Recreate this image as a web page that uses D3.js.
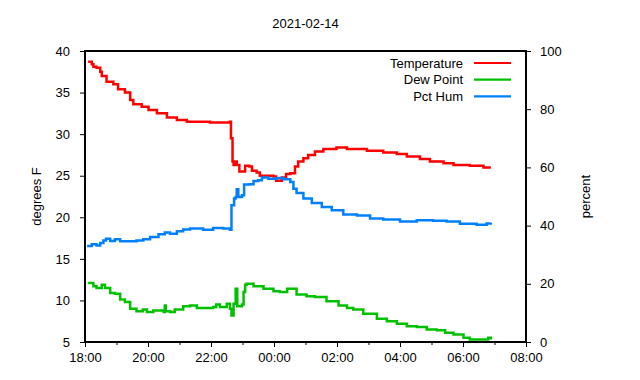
<!DOCTYPE html>
<html>
<head>
<meta charset="utf-8">
<script src="https://cdn.jsdelivr.net/npm/d3@7"></script>
<style>
  body { margin: 0; background: #fff; }
  svg text { font-family: "Liberation Sans", Arial, sans-serif; font-size: 13px; fill: #000; }
</style>
</head>
<body>
<svg id="chart"></svg>
<script>
// minutes after 18:00 on 2021-02-14, value
const temperature = [
  [6,38.7],[13,38.4],[16,38.1],[22,38.0],[29,37.5],[32,37.0],[41,36.3],[54,36.0],[63,35.4],
  [76,35.0],[86,34.1],[92,33.6],[108,33.3],[121,32.9],[137,32.5],[156,32.0],[175,31.7],
  [194,31.5],[238,31.4],[276,31.5],[278,29.5],[281,26.7],[283,26.3],[286,26.7],[289,26.3],
  [294,25.5],[299,25.5],[305,26.2],[313,26.1],[318,25.6],[327,25.4],[333,25.0],[359,24.9],
  [364,24.4],[371,24.4],[375,24.8],[383,25.2],[391,25.3],[400,26.1],[406,26.7],[416,27.1],
  [425,27.5],[438,27.9],[454,28.2],[479,28.4],[499,28.2],[537,28.0],[568,27.8],[594,27.6],
  [613,27.3],[638,27.0],[657,26.7],[683,26.5],[702,26.3],[733,26.2],[759,26.0],[773,26.0]
];
const dewPoint = [
  [6,12.1],[16,11.7],[22,11.5],[32,11.9],[38,11.5],[48,10.9],[57,10.8],[67,10.1],[76,9.8],
  [86,9.0],[98,8.7],[110,8.9],[118,8.6],[130,8.8],[143,8.8],[150,8.6],[152,9.4],[154,8.7],
  [162,8.6],[171,8.9],[187,9.3],[200,9.4],[213,9.1],[232,9.1],[244,9.2],[250,9.5],[257,9.2],
  [270,9.6],[276,9.0],[279,8.2],[283,9.6],[287,11.4],[290,9.3],[299,9.5],[302,11.0],
  [305,11.9],[308,12.0],[321,11.7],[340,11.4],[359,11.1],[371,11.0],[385,11.4],[403,10.7],
  [422,10.5],[438,10.4],[460,9.9],[483,9.4],[499,9.1],[511,8.9],[530,8.4],[556,7.8],
  [575,7.5],[594,7.2],[613,6.9],[632,6.8],[651,6.5],[670,6.4],[686,6.1],[702,5.9],[721,5.5],
  [733,5.3],[759,5.3],[768,5.5],[773,5.3]
];
const pctHum = [
  [4,33.0],[13,33.6],[22,33.2],[29,34.0],[35,34.9],[40,35.5],[48,34.7],[57,35.3],[67,34.6],
  [86,34.6],[98,34.9],[111,35.3],[124,36.1],[140,37.0],[152,37.6],[162,37.2],[175,38.1],
  [187,38.7],[200,39.0],[225,38.6],[244,39.2],[263,39.0],[276,38.6],[278,38.6],[279,47.0],
  [284,49.3],[287,49.8],[289,52.5],[292,49.8],[299,50.4],[303,54.1],[314,54.2],[321,55.3],
  [330,55.6],[337,56.5],[349,56.1],[365,56.4],[378,55.9],[391,55.0],[397,52.7],[403,51.2],
  [416,49.3],[432,47.8],[451,46.4],[470,45.3],[492,43.8],[518,43.5],[543,42.4],[568,42.1],
  [600,41.4],[632,41.8],[663,41.7],[689,41.4],[714,40.6],[746,40.3],[765,40.7],[773,41.0]
];
const seriesNames = ["Temperature", "Dew Point", "Pct Hum"];
const seriesColors = ["#ff0000", "#00c000", "#0080ff"];
const leftTicks = [5, 10, 15, 20, 25, 30, 35, 40];
const rightTicks = [0, 20, 40, 60, 80, 100];

const W = 640, H = 380;
const margin = { top: 51, right: 114, bottom: 38, left: 85 };
const innerW = W - margin.left - margin.right;
const innerH = H - margin.top - margin.bottom;

const base = new Date(2021, 1, 14, 18, 0);
const toDate = m => new Date(base.getTime() + m * 60000);

const svg = d3.select("#chart").attr("width", W).attr("height", H);
const g = svg.append("g").attr("transform", `translate(${margin.left},${margin.top})`);

const x = d3.scaleTime().domain([base, toDate(14 * 60)]).range([0, innerW]);
const yL = d3.scaleLinear().domain([5, 40]).range([innerH, 0]);
const yR = d3.scaleLinear().domain([0, 100]).range([innerH, 0]);

// axes
g.append("g").attr("transform", `translate(0,${innerH})`)
  .call(d3.axisBottom(x).ticks(d3.timeHour.every(2)).tickFormat(d3.timeFormat("%H:%M"))
    .tickSizeInner(5).tickSizeOuter(0).tickPadding(6));
g.append("g").attr("transform", `translate(0,${innerH})`)
  .call(d3.axisBottom(x).ticks(d3.timeHour.every(1)).tickFormat("").tickSizeInner(3).tickSizeOuter(0))
  .select(".domain").remove();
g.append("g")
  .call(d3.axisLeft(yL).tickValues(leftTicks).tickSizeInner(5).tickSizeOuter(0).tickPadding(10));
g.append("g").attr("transform", `translate(${innerW},0)`)
  .call(d3.axisRight(yR).tickValues(rightTicks).tickSizeInner(5).tickSizeOuter(0).tickPadding(9));

g.selectAll(".tick text").style("font-size", "13px").attr("fill", "#000");
g.selectAll(".tick line").attr("stroke", "#000");
g.selectAll(".domain").remove();

// border box
g.append("rect").attr("width", innerW).attr("height", innerH)
  .attr("fill", "none").attr("stroke", "#000").attr("stroke-width", 1.2)
  .attr("shape-rendering", "crispEdges");

// lines (stepped, like the sampled readings)
const lineL = d3.line().curve(d3.curveStepAfter).x(d => x(toDate(d[0]))).y(d => yL(d[1]));
const lineR = d3.line().curve(d3.curveStepAfter).x(d => x(toDate(d[0]))).y(d => yR(d[1]));
const data = [
  { v: temperature, line: lineL },
  { v: dewPoint, line: lineL },
  { v: pctHum, line: lineR }
];
data.forEach((s, i) => {
  g.append("path").datum(s.v)
    .attr("fill", "none")
    .attr("stroke", seriesColors[i])
    .attr("stroke-width", 2.5)
    .attr("stroke-linejoin", "miter")
    .attr("d", s.line);
});

// legend
const legend = g.append("g");
seriesNames.forEach((name, i) => {
  const ly = 12 + i * 16.7;
  legend.append("text").attr("x", 378).attr("y", ly + 4.5)
    .attr("text-anchor", "end").text(name);
  legend.append("line").attr("x1", 389).attr("x2", 426).attr("y1", ly).attr("y2", ly)
    .attr("stroke", seriesColors[i]).attr("stroke-width", 2.2);
});

// titles
svg.append("text").attr("x", margin.left + innerW / 2).attr("y", 28)
  .attr("text-anchor", "middle").text("2021-02-14");
svg.append("text").attr("transform", `translate(41,${margin.top + innerH / 2}) rotate(-90)`)
  .attr("text-anchor", "middle").text("degrees F");
svg.append("text").attr("transform", `translate(590,${margin.top + innerH / 2}) rotate(-90)`)
  .attr("text-anchor", "middle").text("percent");
</script>
</body>
</html>
